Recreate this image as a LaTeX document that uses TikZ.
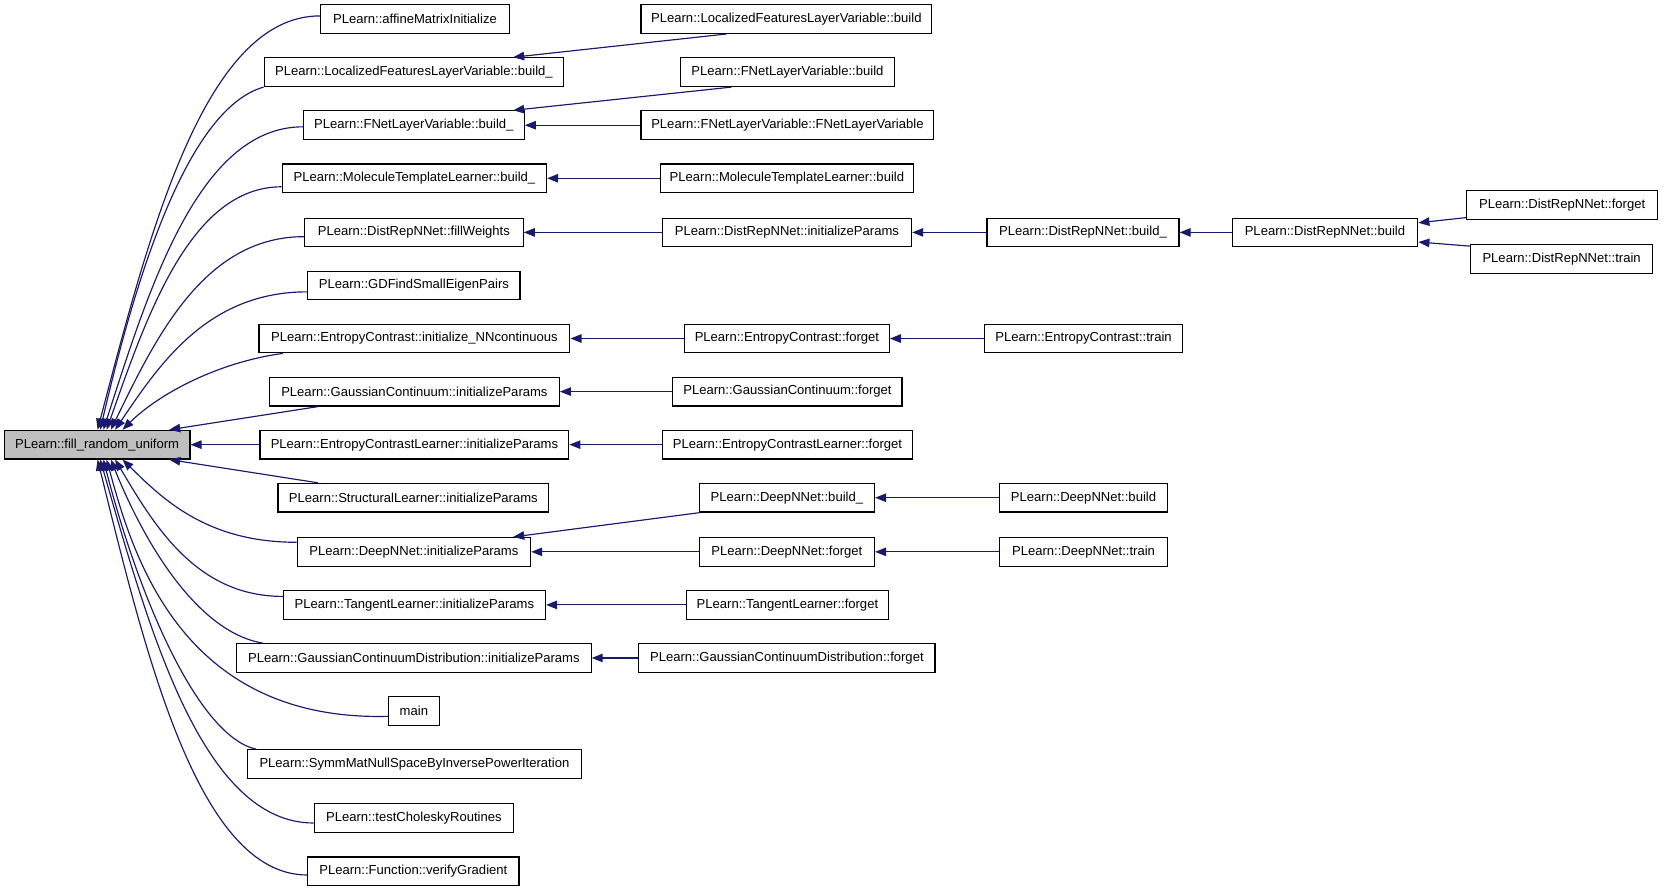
\documentclass[tikz,border=0pt]{standalone}
\usepackage{fontspec}
\setmainfont{Liberation Sans}
\usetikzlibrary{arrows.meta,calc}
\definecolor{edgeblue}{HTML}{191970}
\definecolor{mainfill}{HTML}{BFBFBF}
\tikzset{
  fnbox/.style={draw=black,line width=0.55pt,inner sep=0pt,minimum height=13.5pt,font=\fontsize{6.15pt}{7pt}\selectfont},
  edge/.style={draw=edgeblue,line width=0.55pt,-{Triangle[length=5.2pt,width=4pt]}}
}
\begin{document}
\begin{tikzpicture}[x=0.5pt,y=-0.5pt]
\useasboundingbox (0,0) rectangle (1568,841);
% main node
\node[fnbox,fill=mainfill,minimum width=87.5pt] (main) at (91.5,419) {PLearn::fill\_random\_uniform};
% column 2
\node[fnbox,minimum width=89pt]   (r0)  at (391,18)  {PLearn::affineMatrixInitialize};
\node[fnbox,minimum width=141pt]  (r1)  at (390,68)  {PLearn::LocalizedFeaturesLayerVariable::build\_};
\node[fnbox,minimum width=104pt]  (r2)  at (390,118) {PLearn::FNetLayerVariable::build\_};
\node[fnbox,minimum width=124.5pt](r3)  at (390.5,168) {PLearn::MoleculeTemplateLearner::build\_};
\node[fnbox,minimum width=103pt]  (r4)  at (390,219) {PLearn::DistRepNNet::fillWeights};
\node[fnbox,minimum width=100pt]  (r5)  at (390,269) {PLearn::GDFindSmallEigenPairs};
\node[fnbox,minimum width=146.5pt](r6)  at (390.5,319) {PLearn::EntropyContrast::initialize\_NNcontinuous};
\node[fnbox,minimum width=136.5pt](r7)  at (390.5,369) {PLearn::GaussianContinuum::initializeParams};
\node[fnbox,minimum width=145.5pt](r8)  at (390.5,419) {PLearn::EntropyContrastLearner::initializeParams};
\node[fnbox,minimum width=127.5pt](r9)  at (389.5,469) {PLearn::StructuralLearner::initializeParams};
\node[fnbox,minimum width=110pt]  (r10) at (390,520) {PLearn::DeepNNet::initializeParams};
\node[fnbox,minimum width=123.5pt](r11) at (390.5,570) {PLearn::TangentLearner::initializeParams};
\node[fnbox,minimum width=167pt]  (r12) at (390,620) {PLearn::GaussianContinuumDistribution::initializeParams};
\node[fnbox,minimum width=24pt]   (r13) at (390,670) {main};
\node[fnbox,minimum width=157.5pt](r14) at (390.5,720) {PLearn::SymmMatNullSpaceByInversePowerIteration};
\node[fnbox,minimum width=94pt]   (r15) at (390,771) {PLearn::testCholeskyRoutines};
\node[fnbox,minimum width=99.5pt] (r16) at (389.5,821) {PLearn::Function::verifyGradient};
% column 3
\node[fnbox,minimum width=137pt]  (lflvbuild) at (741,18)  {PLearn::LocalizedFeaturesLayerVariable::build};
\node[fnbox,minimum width=101pt]  (fnetbuild) at (742,68)  {PLearn::FNetLayerVariable::build};
\node[fnbox,minimum width=138pt]  (fnetctor)  at (742,118) {PLearn::FNetLayerVariable::FNetLayerVariable};
\node[fnbox,minimum width=119.5pt](molbuild)  at (741.5,168) {PLearn::MoleculeTemplateLearner::build};
\node[fnbox,minimum width=117.5pt](drinit)    at (741.5,219) {PLearn::DistRepNNet::initializeParams};
\node[fnbox,minimum width=96.5pt] (ecforget)  at (741.5,319) {PLearn::EntropyContrast::forget};
\node[fnbox,minimum width=108pt]  (gcforget)  at (742,369) {PLearn::GaussianContinuum::forget};
\node[fnbox,minimum width=118pt]  (eclforget) at (742,419) {PLearn::EntropyContrastLearner::forget};
\node[fnbox,minimum width=82.5pt] (dnbuildu)  at (741.5,469) {PLearn::DeepNNet::build\_};
\node[fnbox,minimum width=82.5pt] (dnforget)  at (741.5,520) {PLearn::DeepNNet::forget};
\node[fnbox,minimum width=95pt]   (tlforget)  at (742,570) {PLearn::TangentLearner::forget};
\node[fnbox,minimum width=139.5pt](gcdforget) at (741.5,620) {PLearn::GaussianContinuumDistribution::forget};
% column 4
\node[fnbox,minimum width=90.5pt] (drbuildu)  at (1020.5,219) {PLearn::DistRepNNet::build\_};
\node[fnbox,minimum width=93pt]   (ectrain)   at (1021,319) {PLearn::EntropyContrast::train};
\node[fnbox,minimum width=79pt]   (dnbuild)   at (1021,469) {PLearn::DeepNNet::build};
\node[fnbox,minimum width=79pt]   (dntrain)   at (1021,520) {PLearn::DeepNNet::train};
% column 5, 6
\node[fnbox,minimum width=87.5pt] (drbuild)   at (1248.5,219) {PLearn::DistRepNNet::build};
\node[fnbox,minimum width=90pt]   (drforget)  at (1472,193) {PLearn::DistRepNNet::forget};
\node[fnbox,minimum width=85.5pt] (drtrain)   at (1471.5,244) {PLearn::DistRepNNet::train};
% edges into main (top)
\draw[edge] ($(r0.west)+(0,-3)$) .. controls +(-109,0) and +(48.2,-183.5) .. ($(main.north west)+(88.5,0)$);
\draw[edge] (r1.south west) .. controls +(-70,20) and +(35.4,-152.3) .. ($(main.north west)+(91,0)$);
\draw[edge] ($(r2.west)+(0,1.5)$) .. controls +(-97.8,0) and +(43.2,-134.4) .. ($(main.north west)+(94,0)$);
\draw[edge] ($(r3.west)+(0,8)$) .. controls +(-85.8,0) and +(38,-107.9) .. ($(main.north west)+(97,0)$);
\draw[edge] ($(r4.west)+(0,4)$) .. controls +(-94.6,0) and +(41.9,-85.8) .. ($(main.north west)+(101,0)$);
\draw[edge] ($(r5.west)+(0,6)$) .. controls +(-94.1,0) and +(41.6,-61.3) .. ($(main.north west)+(105,0)$);
\draw[edge] ($(r6.south west)+(23,0)$) .. controls +(-60,8) and +(34.7,-34.3) .. ($(main.north west)+(112,0)$);
\draw[edge] (r7) -- ($(main.north west)+(156,0)$);
\draw[edge] (r8.west) -- (main.east);
\draw[edge] (r9) -- ($(main.south west)+(156,0)$);
\draw[edge] ($(r10.west)+(0,-9)$) .. controls +(-85,0) and +(37.7,36.9) .. ($(main.south west)+(112,0)$);
\draw[edge] ($(r11.west)+(0,-8)$) .. controls +(-82.2,0) and +(36.3,60.9) .. ($(main.south west)+(105,0)$);
\draw[edge] ($(r12.north west)+(25,0)$) .. controls +(-60,-10) and +(32.9,81.8) .. ($(main.south west)+(101,0)$);
\draw[edge] ($(r13.west)+(0,5)$) .. controls +(-196,5) and +(24,87.5) .. ($(main.south west)+(97,0)$);
\draw[edge] ($(r14.north west)+(9,0)$) .. controls +(-55,-12) and +(33,128.8) .. ($(main.south west)+(94,0)$);
\draw[edge] ($(r15.west)+(0,4.5)$) .. controls +(-104.5,0) and +(46.2,161.2) .. ($(main.south west)+(91,0)$);
\draw[edge] ($(r16.west)+(0,3.5)$) .. controls +(-102.7,0) and +(45.4,184.2) .. ($(main.south west)+(88.5,0)$);
% column 3 -> column 2
\draw[edge] ($(lflvbuild.south west)+(81,0)$) -- ($(r1.north east)+(-48,0)$);
\draw[edge] ($(fnetbuild.south west)+(49,0)$) -- ($(r2.north east)+(-11,0)$);
\draw[edge] (fnetctor.west) -- (r2.east);
\draw[edge] (molbuild.west) -- (r3.east);
\draw[edge] (drinit.west) -- (r4.east);
\draw[edge] (ecforget.west) -- (r6.east);
\draw[edge] (gcforget.west) -- (r7.east);
\draw[edge] (eclforget.west) -- (r8.east);
\draw[edge] ($(dnbuildu.south west)+(1,0)$) -- ($(r10.north east)+(-17,0)$);
\draw[edge] (dnforget.west) -- (r10.east);
\draw[edge] (tlforget.west) -- (r11.east);
\draw[edge] (gcdforget.west) -- (r12.east);
% column 4 -> column 3
\draw[edge] (drbuildu.west) -- (drinit.east);
\draw[edge] (ectrain.west) -- (ecforget.east);
\draw[edge] (dnbuild.west) -- (dnbuildu.east);
\draw[edge] (dntrain.west) -- (dnforget.east);
% column 5 -> 4, column 6 -> 5
\draw[edge] (drbuild.west) -- (drbuildu.east);
\draw[edge] ($(drforget.south west)+(0,-2)$) -- ($(drbuild.north east)+(0,5)$);
\draw[edge] ($(drtrain.north west)+(0,2)$) -- ($(drbuild.south east)+(0,-5)$);
\end{tikzpicture}
\end{document}
